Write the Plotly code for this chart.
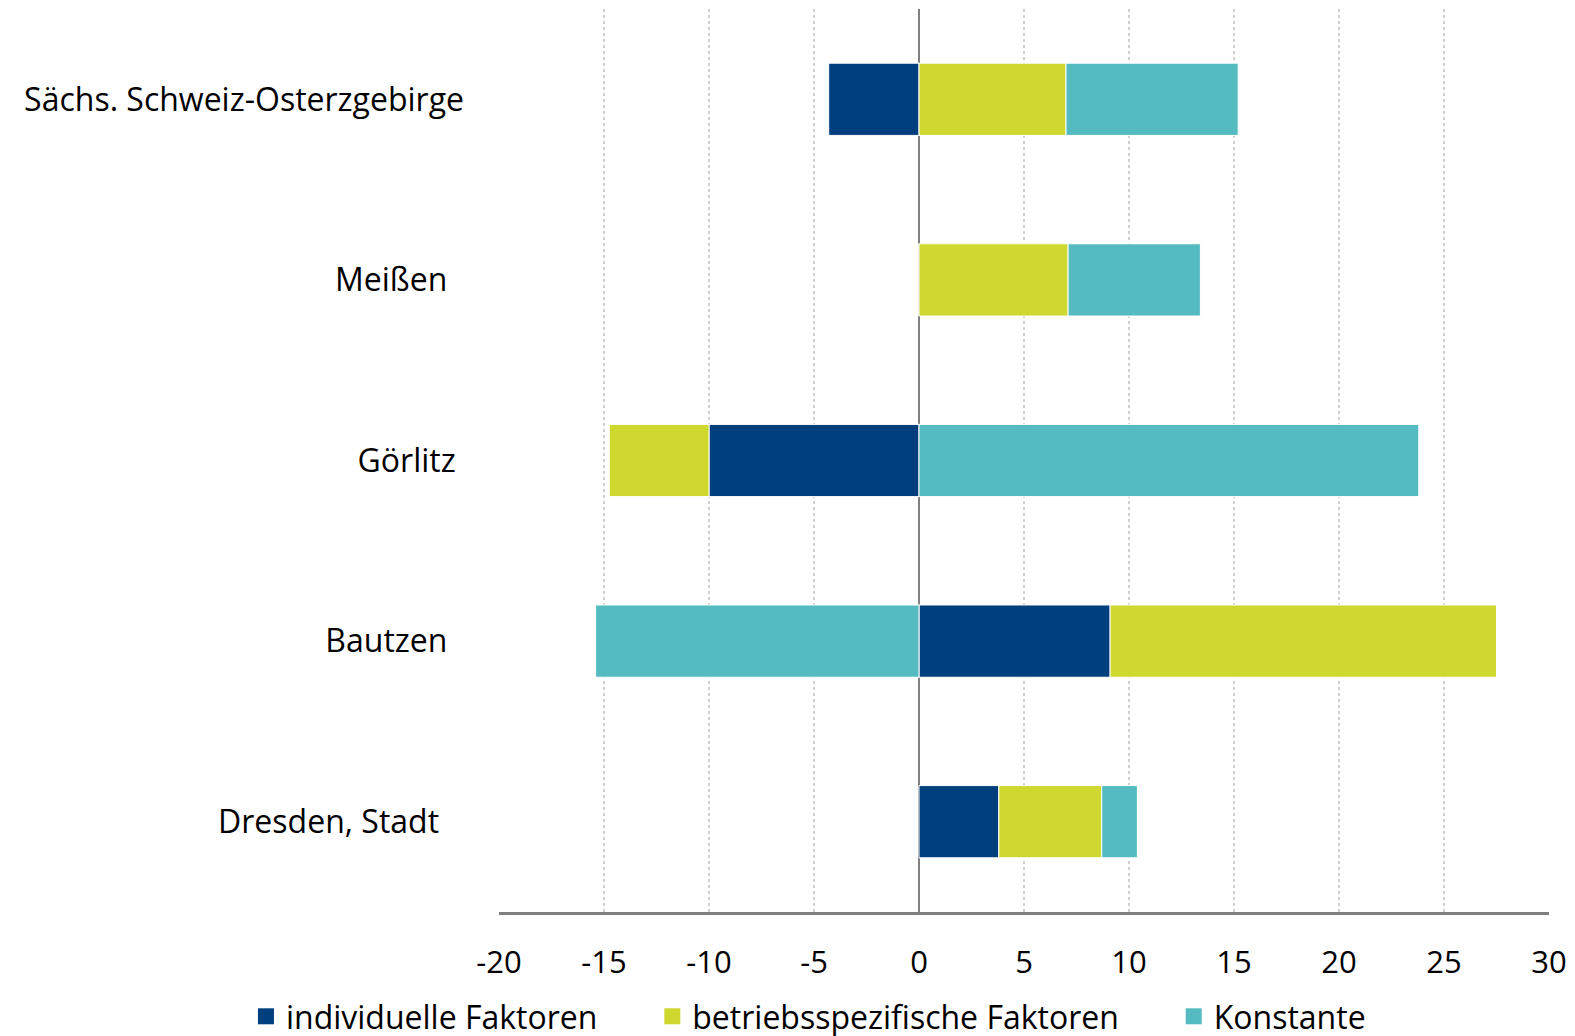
import plotly.graph_objects as go

# Daten
regionen = ["Dresden, Stadt", "Bautzen", "Görlitz", "Meißen", "Sächs. Schweiz-Osterzgebirge"]
individuell = [3.8, 9.1, -10.0, 0.0, -4.3]
betrieb = [4.9, 18.4, -4.75, 7.1, 7.0]
konstante = [1.7, -15.4, 23.8, 6.3, 8.2]
x_ticks = [-20, -15, -10, -5, 0, 5, 10, 15, 20, 25, 30]
serien = ["individuelle Faktoren", "betriebsspezifische Faktoren", "Konstante"]
farben = ["#003F7D", "#CFD82E", "#54BCC0"]

NB = "\u00a0"
# trailing non-breaking spaces to mimic the label offsets
pad = [3, 2, 1, 2, 0]
labels = [r + NB * p for r, p in zip(regionen, pad)]

font = "Open Sans"
fig = go.Figure()
for name, vals, col in zip(serien, [individuell, betrieb, konstante], farben):
    fig.add_trace(go.Bar(y=labels, x=vals, name=name, orientation="h", showlegend=False,
                         marker=dict(color=col, line=dict(color="white", width=1))))

# Legende mit größeren quadratischen Symbolen
leg_pad = [6, 6, 0]
for name, col, p in zip(serien, farben, leg_pad):
    fig.add_trace(go.Scatter(x=[None], y=[None], mode="markers", name=name + NB * p,
                             marker=dict(symbol="square", size=18, color=col)))

# page body has an 8px margin -> margins shifted accordingly
fig.update_layout(
    barmode="relative", bargap=0.6,
    width=1575, height=1036,
    margin=dict(l=491, r=34, t=1, b=131),
    plot_bgcolor="white", paper_bgcolor="white",
    font=dict(family=font, size=32, color="black"),
    legend=dict(orientation="h", x=-0.241, xanchor="left", y=-0.115, yanchor="middle",
                font=dict(size=32), itemwidth=30, traceorder="normal",
                bgcolor="rgba(0,0,0,0)"),
    xaxis=dict(range=[-20, 30], tickvals=x_ticks, ticktext=[str(t) for t in x_ticks],
               showgrid=True, gridcolor="#D0D0D0", griddash="dot", gridwidth=1.5,
               zeroline=True, zerolinecolor="#808080", zerolinewidth=2,
               showline=True, linecolor="#808080", linewidth=3,
               ticks="", ticklabelstandoff=21, tickfont=dict(size=31), automargin=False),
    yaxis=dict(showgrid=False, showline=False, ticks="", ticklabelstandoff=34,
               categoryorder="array", categoryarray=labels, automargin=False),
)

fig.write_html("out.html")
